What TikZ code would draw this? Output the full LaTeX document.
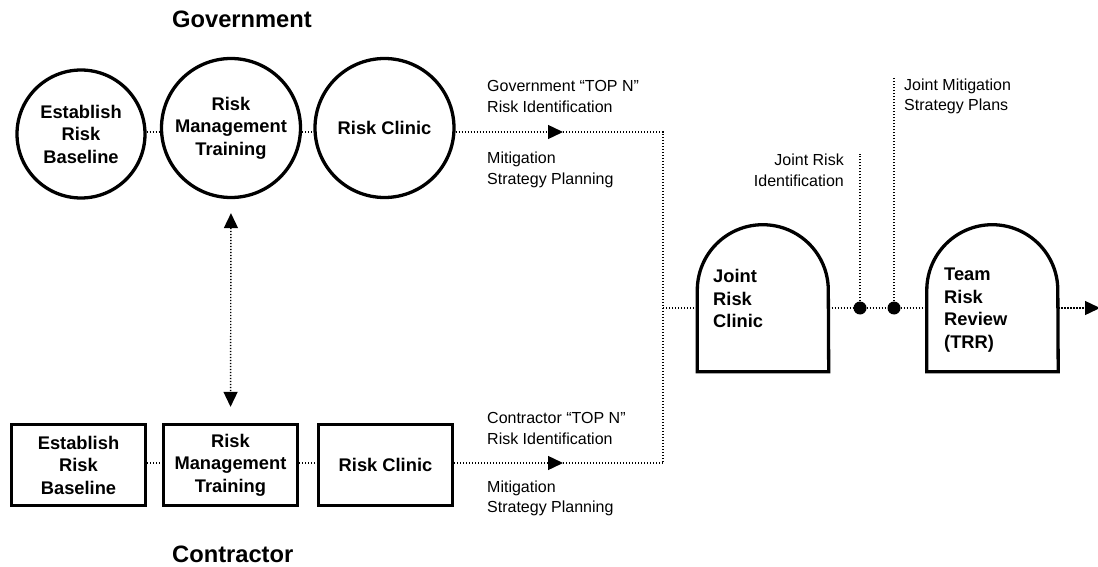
\documentclass[tikz,border=0pt]{standalone}
\usepackage{fontspec}
\setmainfont{Liberation Sans}
\usetikzlibrary{arrows.meta,calc}
\begin{document}
\begin{tikzpicture}[x=1pt,y=-1pt,
  shapeline/.style={line width=3.3pt},
  stagefont/.style={font=\fontsize{18.3}{22.5}\selectfont\bfseries},
  stage/.style={shapeline, draw, stagefont, align=center, inner sep=0pt},
  govstage/.style={stage, circle},
  constage/.style={stage, rectangle, minimum width=134pt, minimum height=81pt},
  archbox/.style={inner sep=0pt, minimum width=131pt, minimum height=147pt},
  link/.style={line width=1.4pt, dash pattern=on 1.3pt off 1.7pt},
  tip/.style={-{Triangle[length=15pt,width=14pt]}},
  tipboth/.style={{Triangle[length=15pt,width=14pt]}-{Triangle[length=15pt,width=14pt]}},
  note/.style={font=\fontsize{16}{20.5}\selectfont, inner sep=0pt},
  title/.style={font=\fontsize{23.7}{28}\selectfont\bfseries, inner sep=0pt, anchor=base west},
  joint/.style={circle, fill, inner sep=0pt, minimum size=13pt}
]
\path[use as bounding box, fill=white] (0,0) rectangle (1098,567);

% section titles
\node[title] (govt) at (172,28) {Government};
\node[title] (contr) at (172,562) {Contractor};

% government stages
\node[govstage, minimum size=128pt] (g1) at (81,134) {Establish\\Risk\\Baseline};
\node[govstage, minimum size=139pt] (g2) at (231,128) {Risk\\Management\\Training};
\node[govstage, minimum size=139pt] (g3) at (384.5,128) {Risk Clinic};

% contractor stages
\node[constage] (c1) at (78.5,465) {Establish\\Risk\\Baseline};
\node[constage] (c2) at (230.5,465) {Risk\\Management\\Training};
\node[constage] (c3) at (385.5,465) {Risk Clinic};

% joint stages (arched boxes)
\node[archbox] (jrc) at (763,298) {};
\draw[shapeline] (jrc.south west) -- ++(0,-81.5)
  arc[start angle=180, end angle=360, radius=65.5] -- (jrc.south east) -- cycle;
\node[stagefont, anchor=west, align=left, inner sep=0pt] (jrct) at (713,298.5) {Joint\\Risk\\Clinic};

\node[archbox] (trr) at (992.5,298) {};
\draw[shapeline] (trr.south west) -- ++(0,-81.5)
  arc[start angle=180, end angle=360, radius=65.5] -- (trr.south east) -- cycle;
\node[stagefont, anchor=west, align=left, inner sep=0pt] (trrt) at (944,310) {Team\\Risk\\Review\\(TRR)};

% routing points
\coordinate (gy) at (0,132);
\coordinate (cy) at (0,463);
\coordinate (gtip) at (563,132);
\coordinate (ctip) at (563,463);
\coordinate (gbend) at (663,132);
\coordinate (cbend) at (663,463);
\coordinate (split) at (663,308);

% government flow
\draw[link] (g1.east |- gy) -- (g2.west |- gy);
\draw[link] (g2.east |- gy) -- (g3.west |- gy);
\draw[link,tip] (g3.east |- gy) -- (gtip);
\draw[link] (gtip) -- (gbend) -- (cbend);

% contractor flow
\draw[link] (c1.east |- cy) -- (c2.west |- cy);
\draw[link] (c2.east |- cy) -- (c3.west |- cy);
\draw[link,tip] (c3.east |- cy) -- (ctip);
\draw[link] (ctip) -- (cbend);

% training exchange
\draw[link,tipboth,shorten <=14pt,shorten >=16pt] (g2.south) -- (c2.north);

% joint flow
\draw[link] (split) -- (jrc.west |- split);
\node[joint] (d1) at (860,308) {};
\node[joint] (d2) at (894,308) {};
\coordinate (d1top) at (860,154);
\coordinate (d2top) at (894,78);
\coordinate (out) at (1100,308);
\draw[link] (jrc.east |- split) -- (d1) -- (d2) -- (trr.west |- split);
\draw[link] (d1) -- (d1top);
\draw[link] (d2) -- (d2top);
\draw[link,tip] (trr.east |- split) -- (out);

% annotations
\node[note, anchor=west, align=left] (gtop) at (487,96.5) {Government “TOP N”\\Risk Identification};
\node[note, anchor=west, align=left] (gbot) at (487,170) {Mitigation\\Strategy Planning};
\node[note, anchor=west, align=left] (ctop) at (487,428.5) {Contractor “TOP N”\\Risk Identification};
\node[note, anchor=west, align=left] (cbot) at (487,498.5) {Mitigation\\Strategy Planning};
\node[note, anchor=east, align=right] (jri) at (844,170.5) {Joint Risk\\Identification};
\node[note, anchor=west, align=left] (jms) at (904,96.5) {Joint Mitigation\\Strategy Plans};
\end{tikzpicture}
\end{document}
